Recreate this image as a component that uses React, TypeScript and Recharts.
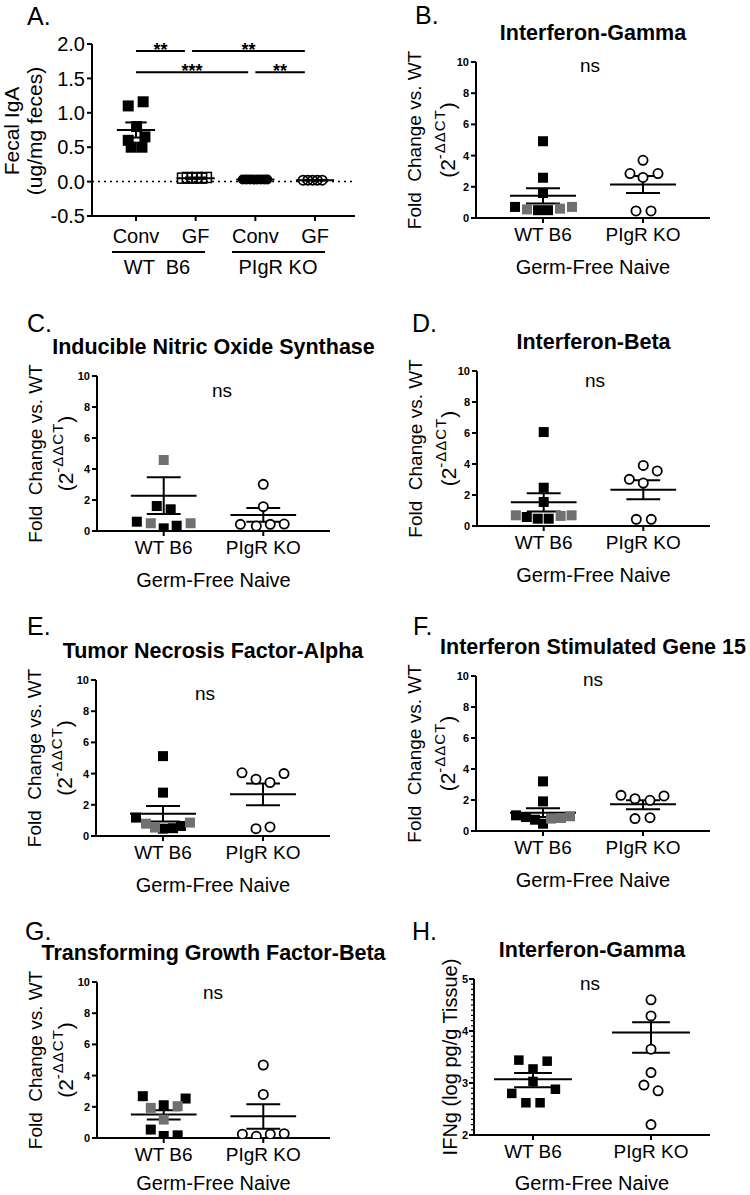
import React from "react";
import { ScatterChart, Scatter, XAxis, YAxis, ReferenceLine } from "recharts";

type Pt = { x: number; y: number };
type Stat = { x: number; mean: number; hi: number; lo: number };
type Rect = { x: number; y: number; w: number; h: number };

const FONT = "'Liberation Sans', Arial, Helvetica, sans-serif";
const GRAY = "#707070";

// ---- A. fecal IgA ----
const igaGroups = ["Conv", "GF", "Conv", "GF"];
const igaTicks = [-0.5, 0, 0.5, 1, 1.5, 2];
const igaConvWt: Pt[] = [
  { x: 0.87, y: 1.1 }, { x: 1.12, y: 1.16 }, { x: 1.01, y: 0.8 }, { x: 0.87, y: 0.6 },
  { x: 1.15, y: 0.65 }, { x: 0.92, y: 0.5 }, { x: 1.1, y: 0.5 },
];
const igaGfWt: Pt[] = [
  { x: 1.78, y: 0.05 }, { x: 1.86, y: 0.06 }, { x: 1.94, y: 0.05 },
  { x: 2.02, y: 0.06 }, { x: 2.1, y: 0.05 }, { x: 2.18, y: 0.06 },
];
const igaConvKo: Pt[] = [
  { x: 2.79, y: 0.03 }, { x: 2.85, y: 0.03 }, { x: 2.91, y: 0.03 }, { x: 2.97, y: 0.03 },
  { x: 3.03, y: 0.03 }, { x: 3.09, y: 0.03 }, { x: 3.15, y: 0.03 }, { x: 3.2, y: 0.03 },
];
const igaGfKo: Pt[] = [
  { x: 3.8, y: 0.02 }, { x: 3.88, y: 0.02 }, { x: 3.96, y: 0.02 }, { x: 4.04, y: 0.02 }, { x: 4.12, y: 0.02 },
];
const igaStats: Stat[] = [
  { x: 1, mean: 0.75, hi: 0.86, lo: 0.64 },
  { x: 2, mean: 0.05, hi: 0.06, lo: 0.04 },
  { x: 3, mean: 0.03, hi: 0.035, lo: 0.025 },
  { x: 4, mean: 0.02, hi: 0.025, lo: 0.015 },
];
const igaSig = [
  { x1: 1, x2: 1.82, y: 1.9, label: "**" },
  { x1: 1.94, x2: 3.83, y: 1.9, label: "**" },
  { x1: 1, x2: 2.88, y: 1.59, label: "***" },
  { x1: 3, x2: 3.83, y: 1.59, label: "**" },
];

// ---- B-G. qPCR fold change ----
const geneGroups = ["WT B6", "PIgR KO"];
const foldTicks = [0, 2, 4, 6, 8, 10];

const ifngWtBlack: Pt[] = [{ x: 1, y: 4.92 }, { x: 1, y: 2.58 }, { x: 1, y: 1.6 }, { x: 0.72, y: 0.71 }, { x: 0.95, y: 0.5 }, { x: 1.05, y: 0.5 }];
const ifngWtGray: Pt[] = [{ x: 0.84, y: 0.55 }, { x: 1.17, y: 0.6 }, { x: 1.29, y: 0.71 }];
const ifngKo: Pt[] = [{ x: 2, y: 3.7 }, { x: 1.87, y: 2.85 }, { x: 2.15, y: 2.85 }, { x: 2, y: 2.6 }, { x: 1.93, y: 0.45 }, { x: 2.08, y: 0.45 }];
const ifngStats: Stat[] = [{ x: 1, mean: 1.42, hi: 1.9, lo: 0.93 }, { x: 2, mean: 2.15, hi: 2.7, lo: 1.6 }];

const inosWtBlack: Pt[] = [{ x: 0.93, y: 1.61 }, { x: 1.07, y: 1.4 }, { x: 0.73, y: 0.6 }, { x: 1, y: 0.17 }, { x: 1.13, y: 0.34 }];
const inosWtGray: Pt[] = [{ x: 1, y: 4.58 }, { x: 0.87, y: 0.5 }, { x: 1.27, y: 0.5 }];
const inosKo: Pt[] = [{ x: 2, y: 3.01 }, { x: 2, y: 1.57 }, { x: 1.77, y: 0.43 }, { x: 1.93, y: 0.32 }, { x: 2.07, y: 0.43 }, { x: 2.21, y: 0.45 }];
const inosStats: Stat[] = [{ x: 1, mean: 2.28, hi: 3.46, lo: 1.1 }, { x: 2, mean: 1.03, hi: 1.48, lo: 0.6 }];

const ifnbWtBlack: Pt[] = [{ x: 1, y: 6.06 }, { x: 1, y: 2.47 }, { x: 1, y: 1.55 }, { x: 0.83, y: 0.58 }, { x: 0.94, y: 0.47 }, { x: 1.05, y: 0.47 }];
const ifnbWtGray: Pt[] = [{ x: 0.72, y: 0.69 }, { x: 1.17, y: 0.65 }, { x: 1.28, y: 0.69 }];
const ifnbKo: Pt[] = [{ x: 2, y: 3.91 }, { x: 2.14, y: 3.55 }, { x: 1.86, y: 3.01 }, { x: 2, y: 2.77 }, { x: 1.93, y: 0.43 }, { x: 2.08, y: 0.43 }];
const ifnbStats: Stat[] = [{ x: 1, mean: 1.53, hi: 2.12, lo: 0.93 }, { x: 2, mean: 2.34, hi: 2.95, lo: 1.72 }];

const tnfWtBlack: Pt[] = [{ x: 1, y: 5.12 }, { x: 1, y: 2.78 }, { x: 0.73, y: 1.18 }, { x: 1, y: 0.47 }, { x: 1.1, y: 0.5 }, { x: 1.18, y: 0.64 }];
const tnfWtGray: Pt[] = [{ x: 0.83, y: 0.79 }, { x: 0.92, y: 0.54 }, { x: 1.27, y: 0.86 }];
const tnfKo: Pt[] = [{ x: 1.79, y: 4.05 }, { x: 1.93, y: 3.64 }, { x: 2.07, y: 3.43 }, { x: 2.21, y: 4.0 }, { x: 1.93, y: 0.47 }, { x: 2.07, y: 0.58 }];
const tnfStats: Stat[] = [{ x: 1, mean: 1.43, hi: 1.93, lo: 0.93 }, { x: 2, mean: 2.68, hi: 3.36, lo: 1.97 }];

const isgWtBlack: Pt[] = [{ x: 1, y: 3.2 }, { x: 1, y: 1.91 }, { x: 0.73, y: 1.01 }, { x: 0.83, y: 0.9 }, { x: 0.92, y: 0.73 }, { x: 1, y: 0.47 }];
const isgWtGray: Pt[] = [{ x: 1.08, y: 0.8 }, { x: 1.18, y: 0.84 }, { x: 1.27, y: 0.95 }];
const isgKo: Pt[] = [{ x: 1.78, y: 2.3 }, { x: 1.92, y: 2.08 }, { x: 2.07, y: 1.98 }, { x: 2.21, y: 2.26 }, { x: 1.92, y: 0.8 }, { x: 2.07, y: 0.86 }];
const isgStats: Stat[] = [{ x: 1, mean: 1.18, hi: 1.46, lo: 0.9 }, { x: 2, mean: 1.72, hi: 1.98, lo: 1.4 }];

const tgfWtBlack: Pt[] = [{ x: 0.79, y: 2.68 }, { x: 1.22, y: 2.53 }, { x: 1, y: 2.1 }, { x: 0.87, y: 0.54 }, { x: 1, y: 0.13 }, { x: 1.14, y: 0.17 }];
const tgfWtGray: Pt[] = [{ x: 0.87, y: 1.93 }, { x: 1.14, y: 2.04 }, { x: 1, y: 1.18 }];
const tgfKo: Pt[] = [{ x: 2, y: 4.68 }, { x: 2, y: 2.79 }, { x: 1.79, y: 0.24 }, { x: 1.93, y: 0.11 }, { x: 2.07, y: 0.24 }, { x: 2.21, y: 0.28 }];
const tgfStats: Stat[] = [{ x: 1, mean: 1.5, hi: 1.78, lo: 1.18 }, { x: 2, mean: 1.39, hi: 2.17, lo: 0.6 }];

// ---- H. IFNg protein ----
const logMajor = [2, 3, 4, 5];
const logMinor = [
  2.1, 2.2, 2.3, 2.4, 2.5, 2.6, 2.7, 2.8, 2.9,
  3.1, 3.2, 3.3, 3.4, 3.5, 3.6, 3.7, 3.8, 3.9,
  4.1, 4.2, 4.3, 4.4, 4.5, 4.6, 4.7, 4.8, 4.9,
];
const protWt: Pt[] = [
  { x: 0.88, y: 3.44 }, { x: 1.12, y: 3.42 }, { x: 1, y: 3.27 }, { x: 1, y: 3.03 },
  { x: 1.19, y: 2.88 }, { x: 0.82, y: 2.8 }, { x: 0.94, y: 2.62 }, { x: 1.06, y: 2.62 },
];
const protKo: Pt[] = [
  { x: 2, y: 4.6 }, { x: 2, y: 4.29 }, { x: 2, y: 3.65 }, { x: 2, y: 3.2 },
  { x: 1.94, y: 2.96 }, { x: 2.06, y: 2.85 }, { x: 2, y: 2.2 },
];
const protStats: Stat[] = [{ x: 1, mean: 3.07, hi: 3.19, lo: 2.92 }, { x: 2, mean: 3.97, hi: 4.17, lo: 3.58 }];

// marker shapes
const square = (size: number, fill: string) => (p: any) =>
  <rect x={p.cx - size / 2} y={p.cy - size / 2} width={size} height={size} fill={fill} />;
const openSquare = (size: number) => (p: any) =>
  <rect x={p.cx - size / 2} y={p.cy - size / 2} width={size} height={size} fill="none" stroke="#000" strokeWidth={1.5} />;
const dot = (r: number) => (p: any) => <circle cx={p.cx} cy={p.cy} r={r} fill="#000" />;
const ring = (r: number, fill: string) => (p: any) =>
  <circle cx={p.cx} cy={p.cy} r={r} fill={fill} stroke="#000" strokeWidth={1.8} />;

const YW = 70;
const XH = 50;
const axisStyle = { stroke: "#000", strokeWidth: 2 };

const LogTick = (p: any) => {
  const v = p.payload.value;
  const major = logMajor.includes(v);
  return (
    <g>
      <line x1={p.x} x2={p.x - (major ? 5 : 3)} y1={p.y} y2={p.y} stroke="#000" strokeWidth={major ? 2 : 1.2} />
      {major && (
        <text x={p.x - 6} y={p.y} dy="0.35em" textAnchor="end" fontSize={11} fontWeight={700} fontFamily={FONT} fill="#000">
          {v}
        </text>
      )}
    </g>
  );
};

interface PanelProps {
  plot: Rect;
  xDomain: [number, number];
  xTicks: number[];
  xLabels: string[];
  xFont: number;
  xMargin: number;
  yDomain: [number, number];
  yTicks: number[];
  yTick: any;
  yFormat?: (v: number) => string;
  series: { data: Pt[]; shape: (p: any) => React.ReactElement }[];
  stats: Stat[];
  meanHalf: number;
  capHalf: number;
  before?: React.ReactNode;
  after?: React.ReactNode;
}

const Panel: React.FC<PanelProps> = (props) => {
  const { plot } = props;
  const custom = typeof props.yTick === "function";
  const seg = (key: string, x1: number, y1: number, x2: number, y2: number) => (
    <ReferenceLine key={key} segment={[{ x: x1, y: y1 }, { x: x2, y: y2 }]} stroke="#000" strokeWidth={2} ifOverflow="visible" />
  );
  return (
    <div style={{ position: "absolute", left: plot.x - YW, top: plot.y - 10 }}>
      <ScatterChart width={plot.w + YW + 10} height={plot.h + 10 + XH} margin={{ top: 10, right: 10, bottom: 0, left: 0 }}>
        <XAxis
          type="number" dataKey="x" domain={props.xDomain} ticks={props.xTicks} interval={0} allowDataOverflow height={XH}
          tickFormatter={(v) => props.xLabels[props.xTicks.indexOf(v)]}
          axisLine={axisStyle} tickLine={axisStyle} tickSize={5} tickMargin={props.xMargin}
          tick={{ fill: "#000", fontSize: props.xFont, fontFamily: FONT }}
        />
        <YAxis
          type="number" dataKey="y" domain={props.yDomain} ticks={props.yTicks} interval={0} allowDataOverflow width={YW}
          axisLine={axisStyle}
          tickLine={custom ? false : axisStyle}
          tickSize={custom ? 0 : 5}
          tickMargin={custom ? 0 : 2}
          tickFormatter={props.yFormat}
          tick={props.yTick}
        />
        {props.before}
        {props.series.map((s, i) => (
          <Scatter key={i} data={s.data} shape={s.shape} isAnimationActive={false} />
        ))}
        {props.stats.flatMap((s, i) => [
          seg(`m${i}`, s.x - props.meanHalf, s.mean, s.x + props.meanHalf, s.mean),
          seg(`h${i}`, s.x - props.capHalf, s.hi, s.x + props.capHalf, s.hi),
          seg(`l${i}`, s.x - props.capHalf, s.lo, s.x + props.capHalf, s.lo),
          seg(`v${i}`, s.x, s.lo, s.x, s.hi),
        ])}
        {props.after}
      </ScatterChart>
    </div>
  );
};

const geneTick = { fill: "#000", fontSize: 11, fontWeight: 700, fontFamily: FONT };

interface GeneProps {
  plot: Rect;
  black: Pt[];
  gray: Pt[];
  ko: Pt[];
  stats: Stat[];
}

const GenePanel: React.FC<GeneProps> = ({ plot, black, gray, ko, stats }) => (
  <Panel
    plot={plot} xDomain={[0.33, 2.67]} xTicks={[1, 2]} xLabels={geneGroups} xFont={19} xMargin={5}
    yDomain={[0, 10]} yTicks={foldTicks} yTick={geneTick}
    series={[
      { data: black, shape: square(10, "#000") },
      { data: gray, shape: square(10, GRAY) },
      { data: ko, shape: ring(4.6, "#fff") },
    ]}
    stats={stats} meanHalf={0.33} capHalf={0.17}
  />
);

interface TextProps {
  plot: Rect;
  letter: string;
  letterPos: [number, number];
  title: string;
  ns: [number, number];
  l1: number;
  l2: number;
  foot?: number;
  fold?: boolean;
}

const PanelText: React.FC<TextProps> = ({ plot, letter, letterPos, title, ns, l1, l2, foot = 49, fold = true }) => {
  const midX = plot.x + plot.w / 2;
  const midY = plot.y + plot.h / 2;
  return (
    <g fontFamily={FONT} fill="#000">
      <text x={letterPos[0]} y={letterPos[1]} fontSize={25}>{letter}</text>
      <text x={midX} y={plot.y - 29} textAnchor="middle" dominantBaseline="central" fontSize={21.5} fontWeight={700}>{title}</text>
      <text x={ns[0]} y={ns[1]} textAnchor="middle" dominantBaseline="central" fontSize={19}>ns</text>
      <text x={midX} y={plot.y + plot.h + foot} textAnchor="middle" dominantBaseline="central" fontSize={20}>Germ-Free Naive</text>
      {fold ? (
        <>
          <text transform={`translate(${plot.x - l1}, ${midY}) rotate(-90)`} textAnchor="middle" dominantBaseline="central" fontSize={19} style={{ whiteSpace: "pre" }}>
            Fold  Change vs. WT
          </text>
          <text transform={`translate(${plot.x - l2}, ${midY}) rotate(-90)`} textAnchor="middle" dominantBaseline="central" fontSize={21}>
            (2<tspan fontSize={15} dy={-8} letterSpacing={1}>-ΔΔCT</tspan><tspan dy={8}>)</tspan>
          </text>
        </>
      ) : (
        <text transform={`translate(${plot.x - l2}, ${midY}) rotate(-90)`} textAnchor="middle" dominantBaseline="central" fontSize={20}>
          IFNg (log pg/g Tissue)
        </text>
      )}
    </g>
  );
};

const plotA: Rect = { x: 92, y: 44, w: 263, h: 172 };
const plotB: Rect = { x: 476, y: 62, w: 234, h: 156 };
const plotC: Rect = { x: 97, y: 376, w: 233, h: 155 };
const plotD: Rect = { x: 477, y: 371, w: 233, h: 155 };
const plotE: Rect = { x: 96, y: 680, w: 234, h: 156 };
const plotF: Rect = { x: 476, y: 676, w: 234, h: 155 };
const plotG: Rect = { x: 97, y: 982, w: 233, h: 156 };
const plotH: Rect = { x: 474, y: 979, w: 236, h: 156 };

export default function App() {
  return (
    <div style={{ position: "absolute", left: 0, top: 0, width: 750, height: 1195, background: "#fff", overflow: "hidden" }}>
      <Panel
        plot={plotA} xDomain={[0.263, 4.67]} xTicks={[1, 2, 3, 4]} xLabels={igaGroups} xFont={20} xMargin={8}
        yDomain={[-0.5, 2]} yTicks={igaTicks}
        yTick={{ fill: "#000", fontSize: 20, fontFamily: FONT }}
        yFormat={(v) => v.toFixed(1)}
        series={[
          { data: igaConvWt, shape: square(11, "#000") },
          { data: igaGfWt, shape: openSquare(10) },
          { data: igaConvKo, shape: dot(5) },
          { data: igaGfKo, shape: ring(4.6, "none") },
        ]}
        stats={igaStats} meanHalf={0.32} capHalf={0.18}
        before={<ReferenceLine y={0} stroke="#000" strokeWidth={1.5} strokeDasharray="2 4" />}
        after={igaSig.map((s, i) => (
          <ReferenceLine
            key={`s${i}`} segment={[{ x: s.x1, y: s.y }, { x: s.x2, y: s.y }]} stroke="#000" strokeWidth={2}
            label={{ value: s.label, position: "top", offset: -5, fontSize: 18, fontWeight: 700, fill: "#000", fontFamily: FONT }}
          />
        ))}
      />
      <GenePanel plot={plotB} black={ifngWtBlack} gray={ifngWtGray} ko={ifngKo} stats={ifngStats} />
      <GenePanel plot={plotC} black={inosWtBlack} gray={inosWtGray} ko={inosKo} stats={inosStats} />
      <GenePanel plot={plotD} black={ifnbWtBlack} gray={ifnbWtGray} ko={ifnbKo} stats={ifnbStats} />
      <GenePanel plot={plotE} black={tnfWtBlack} gray={tnfWtGray} ko={tnfKo} stats={tnfStats} />
      <GenePanel plot={plotF} black={isgWtBlack} gray={isgWtGray} ko={isgKo} stats={isgStats} />
      <GenePanel plot={plotG} black={tgfWtBlack} gray={tgfWtGray} ko={tgfKo} stats={tgfStats} />
      <Panel
        plot={plotH} xDomain={[0.5, 2.5]} xTicks={[1, 2]} xLabels={geneGroups} xFont={19} xMargin={5}
        yDomain={[2, 5]} yTicks={[...logMajor, ...logMinor]} yTick={LogTick}
        series={[
          { data: protWt, shape: square(9.5, "#000") },
          { data: protKo, shape: ring(4.6, "#fff") },
        ]}
        stats={protStats} meanHalf={0.33} capHalf={0.16}
      />

      <svg width={750} height={1195} style={{ position: "absolute", left: 0, top: 0, pointerEvents: "none" }}>
        {/* panel A annotations */}
        <g fontFamily={FONT} fill="#000">
          <text x={27} y={25} fontSize={25}>A.</text>
          <text transform="translate(11, 131) rotate(-90)" textAnchor="middle" dominantBaseline="central" fontSize={21}>Fecal IgA</text>
          <text transform="translate(34, 131) rotate(-90)" textAnchor="middle" dominantBaseline="central" fontSize={21}>(ug/mg feces)</text>
          <line x1={112} x2={205} y1={252} y2={252} stroke="#000" strokeWidth={2} />
          <line x1={232} x2={325} y1={252} y2={252} stroke="#000" strokeWidth={2} />
          <text x={157} y={267} textAnchor="middle" dominantBaseline="central" fontSize={20} style={{ whiteSpace: "pre" }}>WT  B6</text>
          <text x={278} y={267} textAnchor="middle" dominantBaseline="central" fontSize={20}>PIgR KO</text>
        </g>
        <PanelText plot={plotB} letter="B." letterPos={[415, 24]} title="Interferon-Gamma" ns={[590, 65]} l1={62} l2={29} />
        <PanelText plot={plotC} letter="C." letterPos={[27, 332]} title="Inducible Nitric Oxide Synthase" ns={[222, 390]} l1={62} l2={32} />
        <PanelText plot={plotD} letter="D." letterPos={[412, 332]} title="Interferon-Beta" ns={[595, 380]} l1={62} l2={29} />
        <PanelText plot={plotE} letter="E." letterPos={[27, 635]} title="Tumor Necrosis Factor-Alpha" ns={[205, 693]} l1={62} l2={32} />
        <PanelText plot={plotF} letter="F." letterPos={[413, 635]} title="Interferon Stimulated Gene 15" ns={[593, 679]} l1={62} l2={29} />
        <PanelText plot={plotG} letter="G." letterPos={[25, 940]} title="Transforming Growth Factor-Beta" ns={[213, 992]} l1={62} l2={32} foot={45} />
        <PanelText plot={plotH} letter="H." letterPos={[412, 940]} title="Interferon-Gamma" ns={[590, 983]} l1={0} l2={24} foot={48} fold={false} />
      </svg>
    </div>
  );
}
